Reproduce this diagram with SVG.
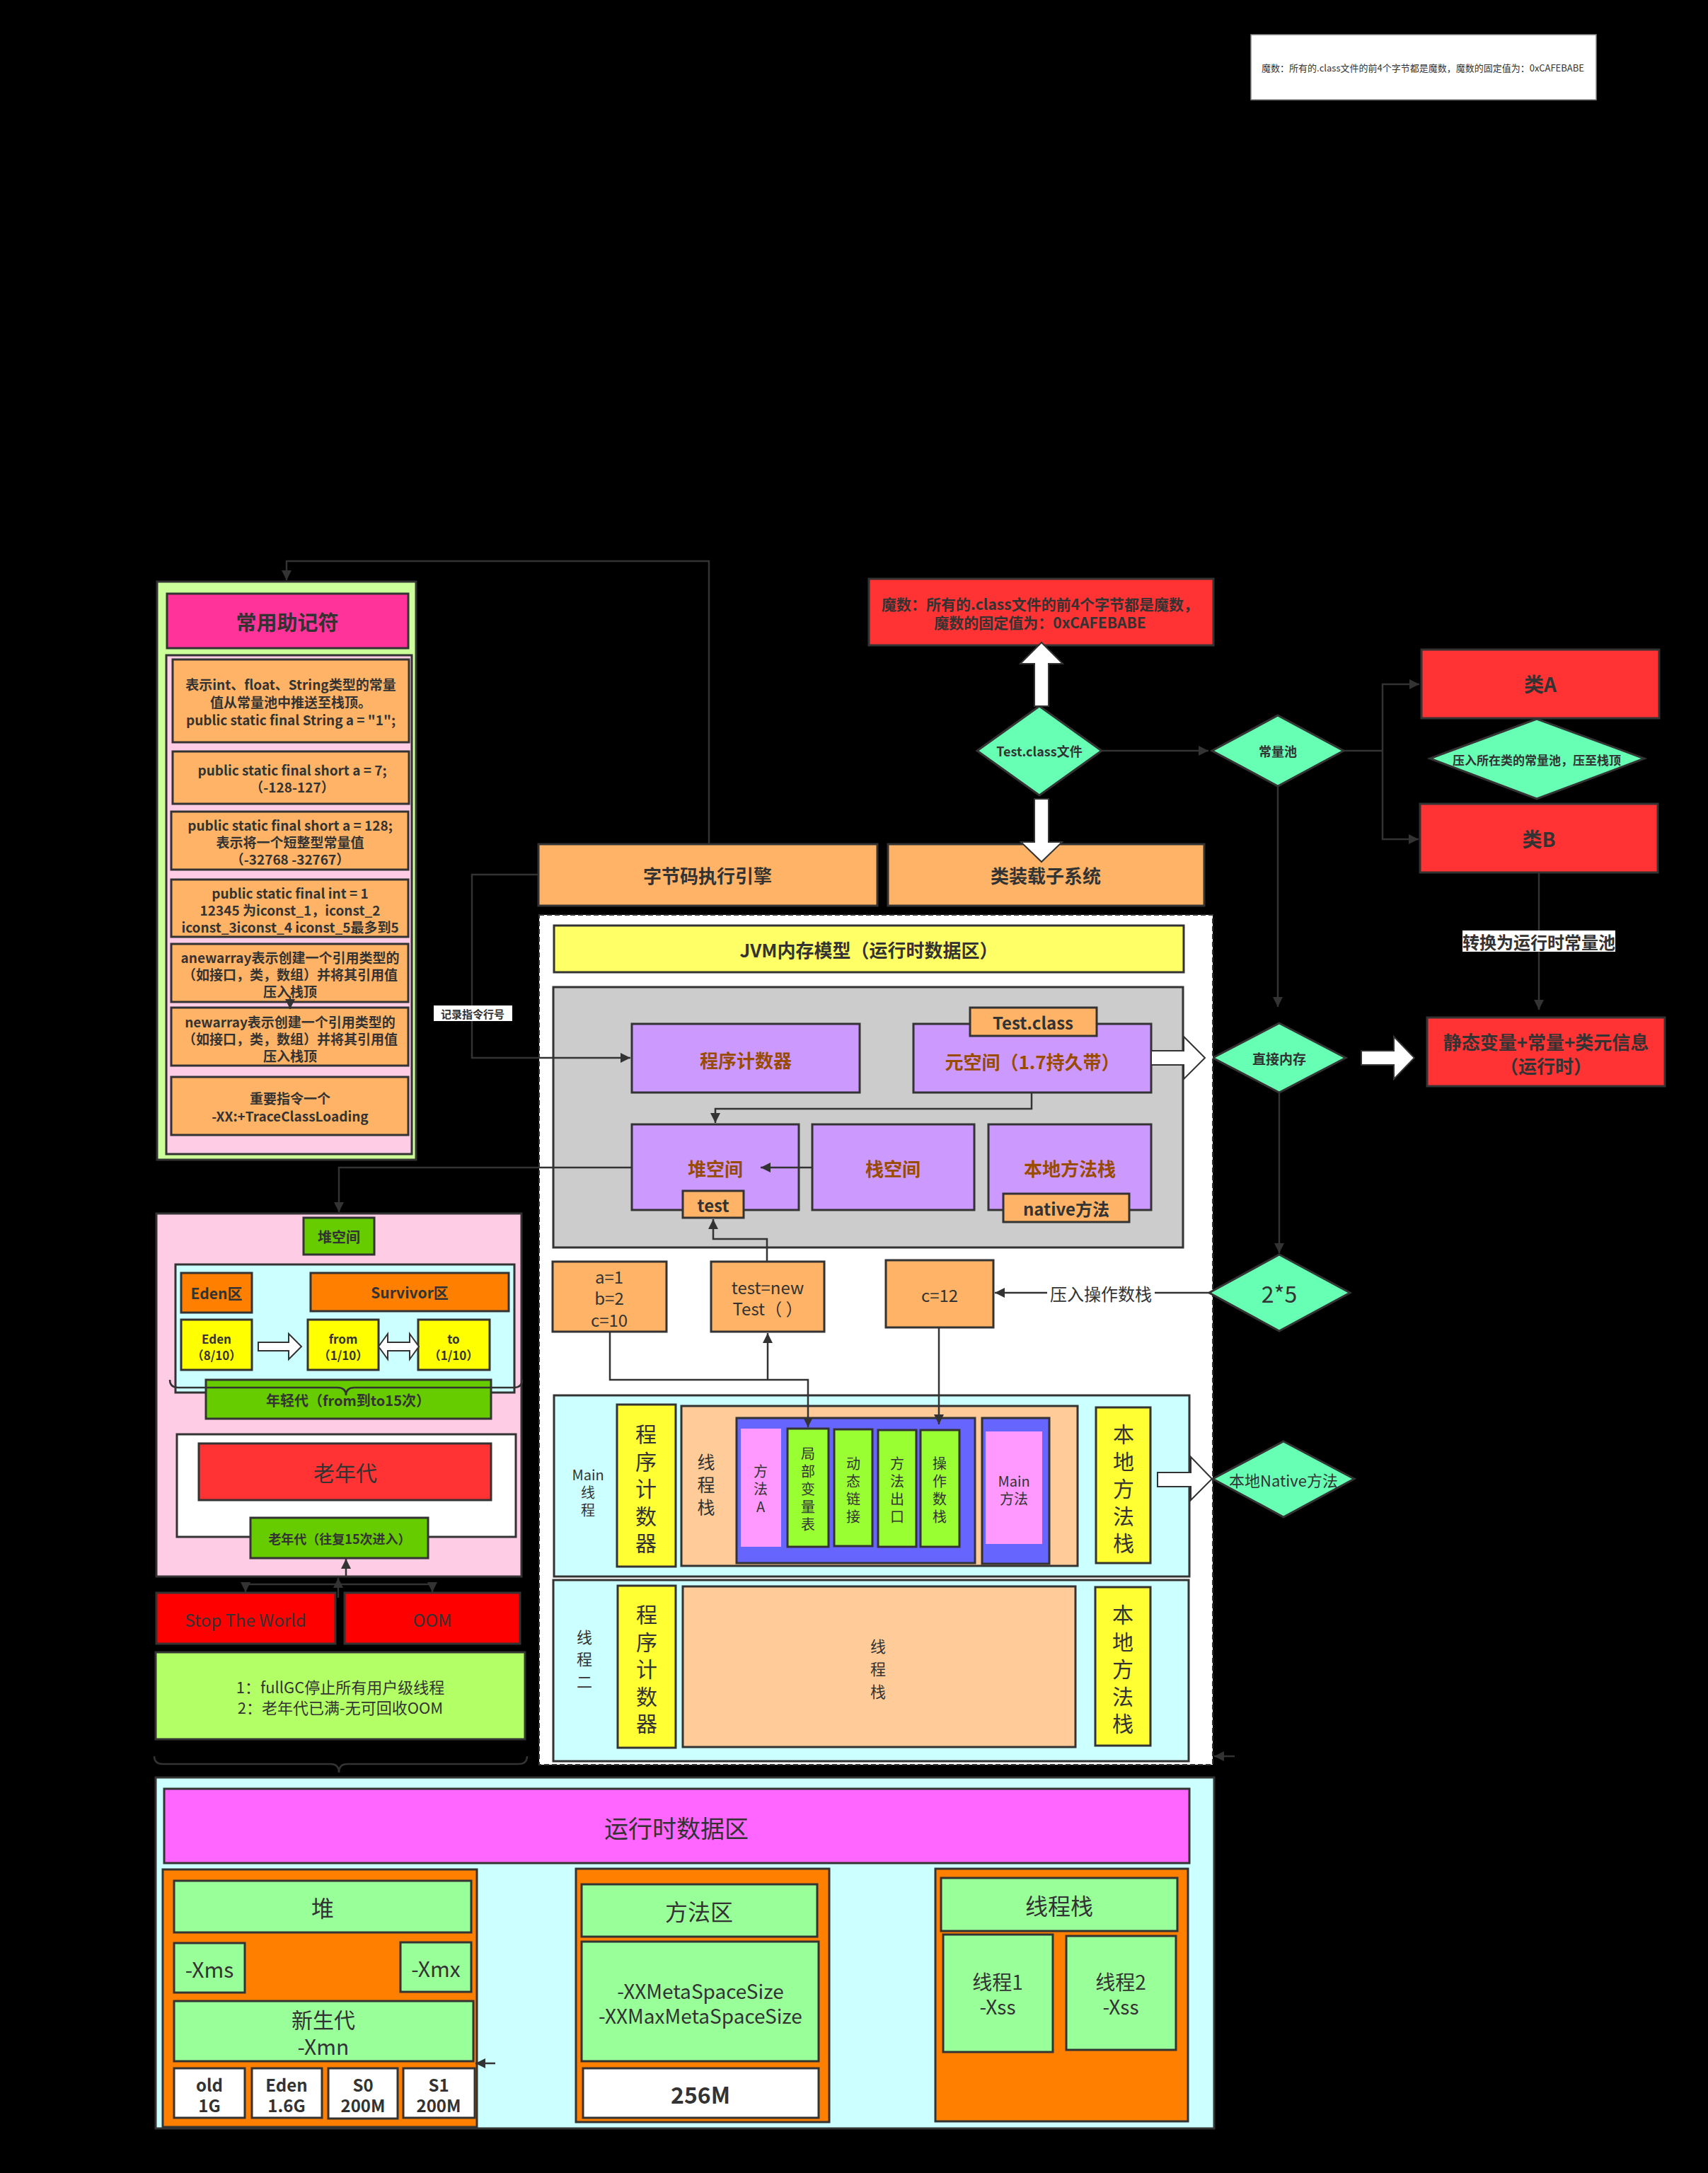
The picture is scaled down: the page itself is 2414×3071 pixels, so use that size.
<svg xmlns="http://www.w3.org/2000/svg" width="2414" height="3071" viewBox="0 0 2414 3071">
<style>
text{font-family:"Noto Sans CJK SC","Noto Sans",sans-serif;fill:#333;text-anchor:middle;dominant-baseline:central}
.b{font-weight:bold}
.bx{stroke:#333;stroke-width:3}
.ln{fill:none;stroke:#333;stroke-width:2.5}
.wa{fill:#fff;stroke:#333;stroke-width:2}
.or{fill:#ffb366}
.pu{fill:#cc99ff}
.dm{fill:#66ffb3}
.rd{fill:#ff3333}
.ye{fill:#ffff33}
.gr{fill:#99ff33}
.lg{fill:#99ff99}
.cy{fill:#ccffff}
.pk{fill:#ff99ff}
.bl{fill:#6666ff}
.pc{fill:#ffcc99}
.br{fill:#994c00}
</style>
<defs>
<marker id="ar" viewBox="0 0 10 10" refX="10" refY="5" markerWidth="15" markerHeight="14" markerUnits="userSpaceOnUse" orient="auto"><path d="M0,0 L10,5 L0,10 z" fill="#333"/></marker>
</defs>
<rect x="0" y="0" width="2414" height="3071" fill="#000"/>

<g id="note-top">
<rect x="1768" y="49" width="488" height="92" fill="#fff" stroke="#888" stroke-width="1.5"/>
<text x="2011" y="95" font-size="13">魔数：所有的.class文件的前4个字节都是魔数，魔数的固定值为：0xCAFEBABE</text>
</g>

<g id="mnemonics">
<rect class="bx" x="222" y="822" width="366" height="817" fill="#ccff99"/>
<rect class="bx" x="236" y="839" width="341" height="77" fill="#ff3399"/>
<text class="b" x="406" y="878" font-size="29">常用助记符</text>
<rect class="bx" x="235" y="926" width="347" height="705" fill="#ffcce6"/>
<g font-size="19">
<rect class="bx or" x="244" y="932" width="334" height="117"/>
<text class="b" x="411" y="966">表示int、float、String类型的常量</text>
<text class="b" x="411" y="991">值从常量池中推送至栈顶。</text>
<text class="b" x="411" y="1016">public static final String a = "1";</text>
<rect class="bx or" x="244" y="1062" width="334" height="74"/>
<text class="b" x="413" y="1087">public static final short a = 7;</text>
<text class="b" x="413" y="1111">（-128-127）</text>
<rect class="bx or" x="242" y="1147" width="335" height="82"/>
<text class="b" x="410" y="1165">public static final short a = 128;</text>
<text class="b" x="410" y="1189">表示将一个短整型常量值</text>
<text class="b" x="410" y="1213">（-32768 -32767）</text>
<rect class="bx or" x="242" y="1243" width="335" height="81"/>
<text class="b" x="410" y="1261">public static final int = 1</text>
<text class="b" x="410" y="1285">12345 为iconst_1，iconst_2</text>
<text class="b" x="410" y="1309">iconst_3iconst_4 iconst_5最多到5</text>
<rect class="bx or" x="242" y="1334" width="335" height="82"/>
<text class="b" x="410" y="1352">anewarray表示创建一个引用类型的</text>
<text class="b" x="410" y="1376">（如接口，类，数组）并将其引用值</text>
<text class="b" x="410" y="1400">压入栈顶</text>
<rect class="bx or" x="242" y="1424" width="335" height="82"/>
<text class="b" x="410" y="1443">newarray表示创建一个引用类型的</text>
<text class="b" x="410" y="1467">（如接口，类，数组）并将其引用值</text>
<text class="b" x="410" y="1491">压入栈顶</text>
<rect class="bx or" x="242" y="1522" width="335" height="82"/>
<text class="b" x="410" y="1551">重要指令一个</text>
<text class="b" x="410" y="1576">-XX:+TraceClassLoading</text>
</g>
</g>

<g id="magic">
<rect class="bx rd" x="1228" y="818" width="487" height="94"/>
<text class="b" x="1470" y="853" font-size="21">魔数：所有的.class文件的前4个字节都是魔数，</text>
<text class="b" x="1470" y="879" font-size="21">魔数的固定值为：0xCAFEBABE</text>
</g>

<g id="testclass">
<polygon class="bx dm" stroke-width="2.5" points="1469,998 1557,1061 1469,1124 1381,1061"/>
<text class="b" x="1469" y="1061" font-size="18">Test.class文件</text>
</g>

<g id="engine">
<rect class="bx or" x="761" y="1193" width="479" height="87"/>
<text class="b" x="1000" y="1236" font-size="26">字节码执行引擎</text>
</g>
<g id="loader">
<rect class="bx or" x="1255" y="1193" width="447" height="87"/>
<text class="b" x="1478" y="1236" font-size="26">类装载子系统</text>
</g>

<g id="constpool">
<polygon class="bx dm" stroke-width="2.5" points="1806,1011 1899,1061 1806,1111 1713,1061"/>
<text class="b" x="1806" y="1061" font-size="18">常量池</text>
</g>
<g id="classA">
<rect class="bx rd" x="2009" y="918" width="336" height="97"/>
<text class="b" x="2177" y="966" font-size="28" fill="#222">类A</text>
</g>
<g id="pushpool">
<polygon class="bx dm" stroke-width="2.5" points="2172,1016 2324,1072 2172,1129 2021,1072"/>
<text class="b" x="2172" y="1073" font-size="17">压入所在类的常量池，压至栈顶</text>
</g>
<g id="classB">
<rect class="bx rd" x="2007" y="1136" width="336" height="97"/>
<text class="b" x="2175" y="1185" font-size="28" fill="#222">类B</text>
</g>
<g id="runtime-info">
<rect class="bx rd" x="2017" y="1438" width="336" height="97"/>
<text class="b" x="2185" y="1471" font-size="26" fill="#111">静态变量+常量+类元信息</text>
<text class="b" x="2185" y="1505" font-size="26" fill="#111">（运行时）</text>
</g>
<g id="direct">
<polygon class="bx dm" stroke-width="2.5" points="1808,1446 1902,1495 1808,1544 1714,1495"/>
<text class="b" x="1808" y="1495" font-size="19">直接内存</text>
</g>

<g id="jvm-container">
<rect x="762" y="1293" width="952" height="1201" fill="#fff" stroke="#333" stroke-width="2" stroke-dasharray="7,4"/>
</g>
<g id="jvm-title">
<rect class="bx" x="783" y="1308" width="890" height="66" fill="#ffff66"/>
<text class="b" x="1228" y="1341" font-size="26" fill="#111">JVM内存模型（运行时数据区）</text>
</g>
<g id="gray-area">
<rect class="bx" x="782" y="1395" width="890" height="368" fill="#cccccc"/>
</g>
<g id="pc">
<rect class="bx pu" x="893" y="1447" width="322" height="97"/>
<text class="b br" x="1054" y="1497" font-size="26">程序计数器</text>
</g>
<g id="metaspace">
<rect class="bx pu" x="1291" y="1447" width="336" height="97"/>
<text class="b br" x="1459" y="1499" font-size="26">元空间（1.7持久带）</text>
<rect class="bx or" x="1371" y="1424" width="179" height="40"/>
<text class="b" x="1460" y="1444" font-size="24">Test.class</text>
</g>
<g id="heap">
<rect class="bx pu" x="893" y="1589" width="236" height="121"/>
<text class="b br" x="1011" y="1650" font-size="26">堆空间</text>
<rect class="bx or" x="965" y="1683" width="86" height="38"/>
<text class="b" x="1008" y="1702" font-size="24">test</text>
</g>
<g id="stack">
<rect class="bx pu" x="1148" y="1589" width="229" height="121"/>
<text class="b br" x="1262" y="1650" font-size="26">栈空间</text>
</g>
<g id="native-stack">
<rect class="bx pu" x="1397" y="1589" width="230" height="121"/>
<text class="b br" x="1512" y="1650" font-size="26">本地方法栈</text>
<rect class="bx or" x="1418" y="1687" width="178" height="40"/>
<text class="b" x="1507" y="1707" font-size="24">native方法</text>
</g>

<g id="abc">
<rect class="bx or" x="781" y="1783" width="161" height="99"/>
<text x="861" y="1803" font-size="24">a=1</text>
<text x="861" y="1833" font-size="24">b=2</text>
<text x="861" y="1864" font-size="24">c=10</text>
</g>
<g id="testnew">
<rect class="bx or" x="1005" y="1783" width="160" height="99"/>
<text x="1085" y="1818" font-size="24">test=new</text>
<text x="1085" y="1848" font-size="24">Test（ ）</text>
</g>
<g id="c12">
<rect class="bx or" x="1252" y="1781" width="152" height="95"/>
<text x="1328" y="1829" font-size="24">c=12</text>
</g>
<g id="two5">
<polygon class="bx dm" stroke-width="2.5" points="1808,1773 1908,1827 1808,1881 1709,1827"/>
<text x="1808" y="1827" font-size="32">2*5</text>
</g>

<g id="main-thread">
<rect class="bx cy" x="783" y="1972" width="898" height="256"/>
<text x="831" y="2083" font-size="20">Main</text>
<text x="831" y="2108" font-size="20">线</text>
<text x="831" y="2133" font-size="20">程</text>
<rect class="bx ye" x="872" y="1985" width="83" height="229"/>
<text font-size="30"><tspan x="913" y="2025">程</tspan><tspan x="913" y="2063.5">序</tspan><tspan x="913" y="2102">计</tspan><tspan x="913" y="2140.5">数</tspan><tspan x="913" y="2179">器</tspan></text>
<rect class="bx pc" x="963" y="1987" width="560" height="226"/>
<text font-size="25"><tspan x="998" y="2065">线</tspan><tspan x="998" y="2097">程</tspan><tspan x="998" y="2129">栈</tspan></text>
<rect class="bx bl" x="1041" y="2004" width="337" height="205"/>
<rect class="pk" x="1047" y="2019" width="57" height="167"/>
<text font-size="20"><tspan x="1075" y="2078">方</tspan><tspan x="1075" y="2103">法</tspan><tspan x="1075" y="2128">A</tspan></text>
<rect class="bx gr" x="1113" y="2019" width="58" height="167"/>
<text font-size="20"><tspan x="1142" y="2053">局</tspan><tspan x="1142" y="2078">部</tspan><tspan x="1142" y="2103">变</tspan><tspan x="1142" y="2128">量</tspan><tspan x="1142" y="2153">表</tspan></text>
<rect class="bx gr" x="1179" y="2020" width="54" height="165"/>
<text font-size="20"><tspan x="1206" y="2067">动</tspan><tspan x="1206" y="2092">态</tspan><tspan x="1206" y="2117">链</tspan><tspan x="1206" y="2142">接</tspan></text>
<rect class="bx gr" x="1241" y="2021" width="54" height="165"/>
<text font-size="20"><tspan x="1268" y="2067">方</tspan><tspan x="1268" y="2092">法</tspan><tspan x="1268" y="2117">出</tspan><tspan x="1268" y="2142">口</tspan></text>
<rect class="bx gr" x="1301" y="2021" width="55" height="165"/>
<text font-size="20"><tspan x="1328" y="2067">操</tspan><tspan x="1328" y="2092">作</tspan><tspan x="1328" y="2117">数</tspan><tspan x="1328" y="2142">栈</tspan></text>
<rect class="bx bl" x="1388" y="2004" width="95" height="206"/>
<rect class="pk" x="1393" y="2023" width="80" height="159"/>
<text x="1433" y="2092" font-size="20">Main</text>
<text x="1433" y="2117" font-size="20">方法</text>
<rect class="bx ye" x="1549" y="1989" width="77" height="220"/>
<text font-size="30"><tspan x="1588" y="2025">本</tspan><tspan x="1588" y="2063.5">地</tspan><tspan x="1588" y="2102">方</tspan><tspan x="1588" y="2140.5">法</tspan><tspan x="1588" y="2179">栈</tspan></text>
</g>

<g id="thread-two">
<rect class="bx cy" x="782" y="2233" width="898" height="256"/>
<text font-size="22"><tspan x="826" y="2312">线</tspan><tspan x="826" y="2343">程</tspan><tspan x="826" y="2375">二</tspan></text>
<rect class="bx ye" x="873" y="2241" width="82" height="229"/>
<text font-size="30"><tspan x="914" y="2280">程</tspan><tspan x="914" y="2318.5">序</tspan><tspan x="914" y="2357">计</tspan><tspan x="914" y="2395.5">数</tspan><tspan x="914" y="2434">器</tspan></text>
<rect class="bx pc" x="965" y="2242" width="555" height="227"/>
<text font-size="22"><tspan x="1241" y="2325">线</tspan><tspan x="1241" y="2357">程</tspan><tspan x="1241" y="2389">栈</tspan></text>
<rect class="bx ye" x="1548" y="2243" width="78" height="224"/>
<text font-size="30"><tspan x="1587" y="2280">本</tspan><tspan x="1587" y="2318.5">地</tspan><tspan x="1587" y="2357">方</tspan><tspan x="1587" y="2395.5">法</tspan><tspan x="1587" y="2434">栈</tspan></text>
</g>

<g id="native-method">
<polygon class="bx dm" stroke-width="2.5" points="1814,2037 1914,2090 1814,2144 1714,2090"/>
<text x="1814" y="2091" font-size="22">本地Native方法</text>
</g>

<g id="heap-detail">
<rect class="bx" x="221" y="1715" width="516" height="513" fill="#ffcce6"/>
<rect class="bx" x="429" y="1721" width="100" height="52" fill="#66cc00"/>
<text class="b" x="479" y="1747" font-size="20">堆空间</text>
<rect class="bx cy" x="248" y="1787" width="479" height="181"/>
<rect class="bx" x="256" y="1799" width="100" height="56" fill="#ff8000"/>
<text class="b" x="306" y="1827" font-size="21">Eden区</text>
<rect class="bx" x="439" y="1799" width="280" height="54" fill="#ff8000"/>
<text class="b" x="579" y="1826" font-size="21">Survivor区</text>
<rect class="bx" x="256" y="1865" width="100" height="71" fill="#ffff00"/>
<text class="b" x="306" y="1891" font-size="17">Eden</text>
<text class="b" x="306" y="1914" font-size="17">（8/10）</text>
<rect class="bx" x="435" y="1865" width="100" height="71" fill="#ffff00"/>
<text class="b" x="485" y="1891" font-size="17">from</text>
<text class="b" x="485" y="1914" font-size="17">（1/10）</text>
<rect class="bx" x="591" y="1865" width="101" height="71" fill="#ffff00"/>
<text class="b" x="641" y="1891" font-size="17">to</text>
<text class="b" x="641" y="1914" font-size="17">（1/10）</text>
<polygon class="wa" points="365,1897 408,1897 408,1885 426,1903 408,1921 408,1909 365,1909"/>
<polygon class="wa" points="535,1903 548,1885 548,1897 579,1897 579,1885 592,1903 579,1921 579,1909 548,1909 548,1921"/>
<rect class="bx" x="291" y="1950" width="403" height="55" fill="#66cc00"/>
<text class="b" x="492" y="1978" font-size="20">年轻代（from到to15次）</text>
<path class="ln" stroke-width="2" d="M240,1950 Q240,1961 252,1961 L477,1961 Q489,1961 489,1972 Q489,1961 501,1961 L726,1961 Q738,1961 738,1950"/>
<rect class="bx" x="250" y="2027" width="479" height="145" fill="#fff"/>
<rect class="bx rd" x="281" y="2040" width="413" height="80"/>
<text x="488" y="2080" font-size="30" fill="#111">老年代</text>
<rect class="bx" x="354" y="2145" width="251" height="57" fill="#66cc00"/>
<text class="b" x="480" y="2174" font-size="18">老年代（往复15次进入）</text>
</g>

<g id="stw">
<rect class="bx" x="221" y="2251" width="253" height="72" fill="#ff0000"/>
<text x="347" y="2288" font-size="24">Stop The World</text>
</g>
<g id="oom">
<rect class="bx" x="487" y="2251" width="248" height="72" fill="#ff0000"/>
<text x="611" y="2288" font-size="24">OOM</text>
</g>
<g id="gc-note">
<rect class="bx" x="220" y="2335" width="522" height="123" fill="#b3ff66"/>
<text x="481" y="2383" font-size="22">1：fullGC停止所有用户级线程</text>
<text x="481" y="2412" font-size="22">2：老年代已满-无可回收OOM</text>
</g>
<path class="ln" stroke-width="2" d="M218,2482 Q218,2493 230,2493 L467,2493 Q479,2493 479,2505 Q479,2493 491,2493 L733,2493 Q745,2493 745,2482"/>

<g id="runtime-area">
<rect class="bx cy" x="220" y="2512" width="1496" height="496"/>
<rect class="bx" x="232" y="2528" width="1449" height="105" fill="#ff66ff"/>
<text x="956" y="2582" font-size="34">运行时数据区</text>
<rect class="bx" x="230" y="2642" width="444" height="364" fill="#ff8000"/>
<rect class="bx lg" x="246" y="2658" width="420" height="73"/>
<text x="456" y="2695" font-size="32">堆</text>
<rect class="bx lg" x="246" y="2746" width="100" height="70"/>
<text x="296" y="2782" font-size="30">-Xms</text>
<rect class="bx lg" x="566" y="2745" width="100" height="70"/>
<text x="616" y="2781" font-size="30">-Xmx</text>
<rect class="bx lg" x="246" y="2828" width="423" height="85"/>
<text x="457" y="2853" font-size="30">新生代</text>
<text x="457" y="2891" font-size="30">-Xmn</text>
<rect class="bx" x="246" y="2923" width="100" height="70" fill="#fff"/>
<text class="b" x="296" y="2945" font-size="24">old</text>
<text class="b" x="296" y="2974" font-size="24">1G</text>
<rect class="bx" x="356" y="2923" width="99" height="70" fill="#fff"/>
<text class="b" x="405" y="2945" font-size="24">Eden</text>
<text class="b" x="405" y="2974" font-size="24">1.6G</text>
<rect class="bx" x="464" y="2923" width="98" height="71" fill="#fff"/>
<text class="b" x="513" y="2945" font-size="24">S0</text>
<text class="b" x="513" y="2974" font-size="24">200M</text>
<rect class="bx" x="570" y="2923" width="101" height="70" fill="#fff"/>
<text class="b" x="620" y="2945" font-size="24">S1</text>
<text class="b" x="620" y="2974" font-size="24">200M</text>
<rect class="bx" x="814" y="2641" width="358" height="358" fill="#ff8000"/>
<rect class="bx lg" x="822" y="2663" width="333" height="74"/>
<text x="988" y="2700" font-size="32">方法区</text>
<rect class="bx lg" x="822" y="2744" width="335" height="169"/>
<text x="990" y="2813" font-size="28">-XXMetaSpaceSize</text>
<text x="990" y="2848" font-size="28">-XXMaxMetaSpaceSize</text>
<rect class="bx" x="824" y="2923" width="333" height="70" fill="#fff"/>
<text class="b" x="990" y="2959" font-size="32">256M</text>
<rect class="bx" x="1322" y="2641" width="357" height="357" fill="#ff8000"/>
<rect class="bx lg" x="1330" y="2654" width="334" height="75"/>
<text x="1497" y="2692" font-size="32">线程栈</text>
<rect class="bx lg" x="1333" y="2734" width="155" height="166"/>
<text x="1410" y="2800" font-size="28">线程1</text>
<text x="1410" y="2835" font-size="28">-Xss</text>
<rect class="bx lg" x="1507" y="2736" width="155" height="161"/>
<text x="1584" y="2800" font-size="28">线程2</text>
<text x="1584" y="2835" font-size="28">-Xss</text>
</g>

<g id="connectors">
<path class="ln" d="M1002,1193 L1002,793 L405,793 L405,820" marker-end="url(#ar)"/>
<path class="ln" d="M410,1408 L410,1426" marker-end="url(#ar)"/>
<path class="ln" d="M761,1236 L667,1236 L667,1495 L891,1495" marker-end="url(#ar)"/>
<path class="ln" d="M1458,1544 L1458,1567 L1011,1567 L1011,1587" marker-end="url(#ar)"/>
<path class="ln" d="M1148,1650 L1075,1650" marker-end="url(#ar)"/>
<path class="ln" d="M893,1650 L479,1650 L479,1713" marker-end="url(#ar)"/>
<path class="ln" d="M1084,1782 L1084,1751 L1008,1751 L1008,1723" marker-end="url(#ar)"/>
<path class="ln" d="M1557,1061 L1708,1061" marker-end="url(#ar)"/>
<path class="ln" d="M1899,1061 L1954,1061"/>
<path class="ln" d="M1954,1061 L1954,967 L2006,967" marker-end="url(#ar)"/>
<path class="ln" d="M1954,1061 L1954,1186 L2005,1186" marker-end="url(#ar)"/>
<path class="ln" d="M2175,1233 L2175,1427" marker-end="url(#ar)"/>
<path class="ln" d="M1806,1111 L1806,1423" marker-end="url(#ar)"/>
<path class="ln" d="M1808,1544 L1808,1771" marker-end="url(#ar)"/>
<path class="ln" d="M1709,1827 L1406,1827" marker-end="url(#ar)"/>
<path class="ln" d="M862,1882 L862,1950 L1142,1950 L1142,2017" marker-end="url(#ar)"/>
<path class="ln" d="M1085,1950 L1085,1884" marker-end="url(#ar)"/>
<path class="ln" d="M1327,1876 L1327,2013" marker-end="url(#ar)"/>
<path class="ln" d="M1745,2482 L1716,2482" marker-end="url(#ar)"/>
<path class="ln" d="M489,2228 L489,2203" marker-end="url(#ar)"/>
<path class="ln" d="M478,2239 L347,2239 L347,2250" marker-end="url(#ar)"/>
<path class="ln" d="M478,2239 L611,2239 L611,2250" marker-end="url(#ar)"/>
<path class="ln" d="M478,2258 L478,2230" marker-end="url(#ar)"/>
<path class="ln" d="M700,2916 L672,2916" marker-end="url(#ar)"/>
<polygon class="wa" points="1462,998 1462,938 1442,938 1472,908 1502,938 1482,938 1482,998"/>
<polygon class="wa" points="1462,1129 1482,1129 1482,1190 1501,1190 1472,1218 1443,1190 1462,1190"/>
<polygon class="wa" points="1627,1485 1673,1485 1673,1465 1703,1495 1673,1525 1673,1505 1627,1505"/>
<polygon class="wa" points="1924,1485 1970,1485 1970,1465 1999,1495 1970,1525 1970,1505 1924,1505"/>
<polygon class="wa" points="1636,2081 1683,2081 1683,2059 1713,2090 1683,2120 1683,2101 1636,2101"/>
<rect x="613" y="1421" width="111" height="22" fill="#fff"/>
<text class="b" x="668" y="1432" font-size="15" fill="#000">记录指令行号</text>
<rect x="2067" y="1315" width="216" height="30" fill="#fff"/>
<text class="b" x="2175" y="1330" font-size="24">转换为运行时常量池</text>
<rect x="1480" y="1812" width="152" height="30" fill="#fff"/>
<text x="1556" y="1827" font-size="24">压入操作数栈</text>
</g>
</svg>
